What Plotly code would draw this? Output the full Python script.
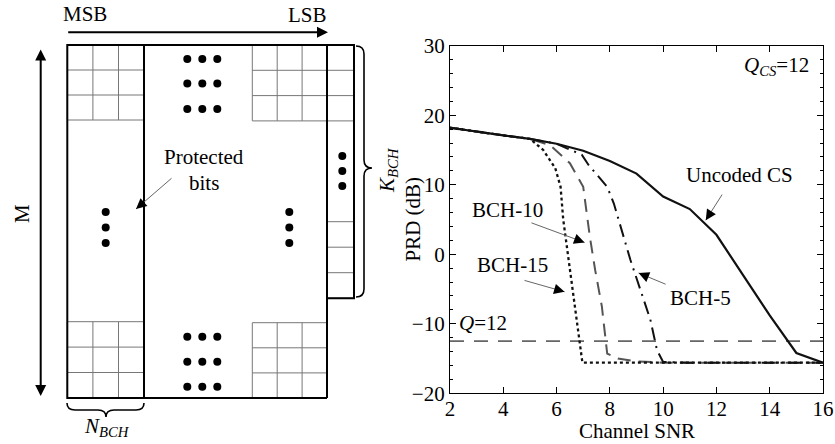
import math
import plotly.graph_objects as go

# ---------------- data (right chart) ----------------
snr_uncoded = [2, 3, 4, 5, 6, 7, 8, 9, 10, 11, 12, 13, 14, 15, 16]
prd_uncoded = [18.2, 17.6, 17.1, 16.6, 15.9, 14.9, 13.4, 11.6, 8.3, 6.5, 2.8, -3.0, -8.8, -14.2, -15.6]

snr_bch15 = [2, 3, 4, 5, 5.5, 5.95, 6.15, 6.25, 6.6, 6.9, 6.97, 8, 10, 12, 14, 16]
prd_bch15 = [18.2, 17.6, 17.1, 16.6, 15.0, 12.4, 9.7, 5.0, -5.0, -14.2, -15.6, -15.6, -15.6, -15.6, -15.6, -15.6]

snr_bch10 = [2, 3, 4, 5, 5.75, 6.5, 7.0, 7.25, 7.45, 7.7, 7.9, 8.3, 9, 10, 12, 14, 16]
prd_bch10 = [18.2, 17.6, 17.1, 16.6, 15.7, 13.1, 9.7, 2.5, -2.3, -7.5, -14.3, -15.0, -15.4, -15.6, -15.6, -15.6, -15.6]

snr_bch5 = [2, 3, 4, 5, 6, 6.95, 7.2, 7.9, 8.15, 8.77, 9.14, 9.52, 9.77, 10.0, 11, 12, 14, 16]
prd_bch5 = [18.2, 17.6, 17.1, 16.6, 15.9, 14.3, 12.85, 9.7, 7.3, -0.8, -5.1, -9.4, -13.8, -15.5, -15.6, -15.6, -15.6, -15.6]

q12_level = -12.5
q12_snr = [2, 16]

x_ticks = [2, 4, 6, 8, 10, 12, 14, 16]
y_ticks = [-20, -10, 0, 10, 20, 30]

FONT = "Liberation Serif"
W, H = 835, 444
PX_L, PX_R, PX_T, PX_B = 450, 823, 45.7, 393.3
X_RANGE, Y_RANGE = [2, 16], [-20, 30]
SX = (PX_R - PX_L) / (X_RANGE[1] - X_RANGE[0])   # px per x unit
SY = (PX_B - PX_T) / (Y_RANGE[1] - Y_RANGE[0])   # px per y unit

fig = go.Figure()

# ---------------- right chart traces ----------------
fig.add_trace(go.Scatter(x=q12_snr, y=[q12_level] * len(q12_snr), mode="lines",
                         line=dict(color="#666666", width=1.8, dash="14px,10px"),
                         xaxis="x", yaxis="y", showlegend=False))
fig.add_trace(go.Scatter(x=snr_bch10, y=prd_bch10, mode="lines",
                         line=dict(color="#555555", width=2, dash="13px,8px"),
                         xaxis="x", yaxis="y", showlegend=False))
fig.add_trace(go.Scatter(x=snr_bch5, y=prd_bch5, mode="lines",
                         line=dict(color="#111111", width=2, dash="13px,6px,2px,6px"),
                         xaxis="x", yaxis="y", showlegend=False))
fig.add_trace(go.Scatter(x=snr_bch15, y=prd_bch15, mode="lines",
                         line=dict(color="#111111", width=2.3, dash="dot"),
                         xaxis="x", yaxis="y", showlegend=False))
fig.add_trace(go.Scatter(x=snr_uncoded, y=prd_uncoded, mode="lines",
                         line=dict(color="#111111", width=2.2),
                         xaxis="x", yaxis="y", showlegend=False))

# ---------------- left diagram (pixel-like axis x2/y2) ----------------
shapes = []
BLACK = dict(color="black", width=2)
GRID = dict(color="#777777", width=1)

def line(x0, y0, x1, y1, ln):
    shapes.append(dict(type="line", xref="x2", yref="y2", x0=x0, y0=y0, x1=x1, y1=y1, line=ln))

def grid(x0, y0, cw, ch, nc, nr):
    for i in range(nc + 1):
        xx = x0 + i * cw
        line(xx, y0, xx, y0 + nr * ch, GRID)
    for j in range(nr + 1):
        yy = y0 + j * ch
        line(x0, yy, x0 + nc * cw, yy, GRID)

grid(67.3, 45, 25.6, 25.0, 3, 3)
grid(252.3, 45, 24.9, 25.3, 3, 3)
grid(67.3, 321.7, 25.6, 25.4, 3, 3)
grid(252.3, 322.7, 24.9, 25.1, 3, 3)
grid(327, 45, 27, 25.3, 1, 3)
grid(327, 221.7, 27, 25.5, 1, 3)

shapes.append(dict(type="rect", xref="x2", yref="y2", x0=67.3, y0=45, x1=144, y1=398, line=BLACK))
shapes.append(dict(type="rect", xref="x2", yref="y2", x0=327, y0=45, x1=354, y1=298.3, line=BLACK))
line(144, 45, 327, 45, BLACK)
line(327, 298.3, 327, 398, BLACK)
line(144, 398, 327, 398, BLACK)

shapes.append(dict(type="path", xref="x2", yref="y2",
                   path="M 67,403 Q 67,410 75,410 L 98,410 Q 106,410 106,417 Q 106,410 114,410 L 136,410 Q 144,410 144,403",
                   line=dict(color="black", width=1.6)))
shapes.append(dict(type="path", xref="x2", yref="y2",
                   path="M 356,46 Q 364,46 364,54 L 364,160 Q 364,168 372,168 Q 364,168 364,176 L 364,289 Q 364,297 356,297",
                   line=dict(color="black", width=1.6)))

dot_x, dot_y = [], []
for xx in (187.3, 202.3, 217.3):
    for yy in (59, 83.5, 109, 336.7, 361.7, 386.7):
        dot_x.append(xx); dot_y.append(yy)
for xx in (105.7, 289.3):
    for yy in (212, 227.5, 243):
        dot_x.append(xx); dot_y.append(yy)
for yy in (156, 171, 186):
    dot_x.append(342.3); dot_y.append(yy)
fig.add_trace(go.Scatter(x=dot_x, y=dot_y, mode="markers",
                         marker=dict(color="black", size=8, line=dict(width=0)),
                         xaxis="x2", yaxis="y2", showlegend=False, cliponaxis=False))

annotations = []
TF = dict(family=FONT, size=21, color="black")

def txt(x, y, s, ref=("x2", "y2"), angle=0, font=TF):
    annotations.append(dict(x=x, y=y, xref=ref[0], yref=ref[1], text=s, showarrow=False,
                            font=font, textangle=angle, xanchor="center", yanchor="middle"))

def arrow(xt, yt, xh, yh, ref=("x2", "y2"), color="black", width=2, side="end", size=1.0):
    annotations.append(dict(x=xh, y=yh, ax=xt, ay=yt, xref=ref[0], yref=ref[1],
                            axref=ref[0], ayref=ref[1], text="", showarrow=True,
                            arrowhead=2, arrowsize=size, arrowwidth=width, arrowcolor=color,
                            arrowside=side))

def pointer(xt, yt, xh, yh, ref=("x2", "y2")):
    """thin gray line with a black filled head"""
    sx, sy = (1.0, 1.0) if ref[0] == "x2" else (SX, -SY)
    annotations.append(dict(x=xh, y=yh, ax=xt, ay=yt, xref=ref[0], yref=ref[1],
                            axref=ref[0], ayref=ref[1], text="", showarrow=True,
                            arrowhead=0, arrowwidth=1, arrowcolor="#666666"))
    dxp, dyp = (xh - xt) * sx, (yh - yt) * sy
    L = math.hypot(dxp, dyp)
    k = 10.0 / L
    annotations.append(dict(x=xh, y=yh, ax=xh - (xh - xt) * k, ay=yh - (yh - yt) * k,
                            xref=ref[0], yref=ref[1], axref=ref[0], ayref=ref[1], text="",
                            showarrow=True, arrowhead=2, arrowsize=1.4, arrowwidth=1.5,
                            arrowcolor="black"))

txt(85, 14, "MSB")
txt(307, 15, "LSB")
arrow(66.7, 32.3, 328, 32.3, width=2, size=1.1)
arrow(40.7, 48, 40.7, 396, width=2, side="end+start", size=1.1)
txt(22, 214, "M", angle=-90)
txt(204, 157, "Protected")
txt(204, 183, "bits")
pointer(173, 177, 136, 209)
txt(388, 170, "<i>K</i><sub><i>BCH</i></sub>", angle=-90)
txt(107, 427, "<i>N</i><sub><i>BCH</i></sub>")

R = ("x", "y")
txt(14.25, 27.1, "<i>Q</i><sub><i>CS</i></sub>=12", ref=R)
txt(12.85, 11.4, "Uncoded CS", ref=R)
pointer(12.25, 8.8, 11.6, 4.9, ref=R)
txt(4.14, 6.4, "BCH-10", ref=R)
pointer(5.0, 4.6, 7.05, 1.7, ref=R)
txt(4.33, -1.5, "BCH-15", ref=R)
pointer(4.74, -3.7, 6.3, -5.4, ref=R)
txt(11.4, -6.3, "BCH-5", ref=R)
pointer(10.15, -4.4, 9.08, -2.7, ref=R)
txt(3.25, -9.9, "<i>Q</i>=12", ref=R)

annotations.append(dict(x=412 / W, y=1 - 219.5 / H, xref="paper", yref="paper", text="PRD (dB)",
                        showarrow=False, textangle=-90, font=TF, xanchor="center", yanchor="middle"))
annotations.append(dict(x=636.5 / W, y=1 - 431 / H, xref="paper", yref="paper", text="Channel SNR",
                        showarrow=False, font=TF, xanchor="center", yanchor="middle"))

axis_common = dict(showline=True, linecolor="black", linewidth=1.2, mirror="allticks",
                   ticks="inside", ticklen=6, tickwidth=1, tickcolor="black",
                   showgrid=False, zeroline=False, tickfont=TF, automargin=False)

fig.update_layout(
    template="none",
    width=W, height=H,
    margin=dict(l=0, r=0, t=0, b=0, pad=0),
    paper_bgcolor="white", plot_bgcolor="rgba(0,0,0,0)",
    font=dict(family=FONT, color="black"),
    xaxis=dict(domain=[PX_L / W, PX_R / W], range=X_RANGE, tickvals=x_ticks, anchor="y",
               ticklabelstandoff=-4, **axis_common),
    yaxis=dict(domain=[1 - PX_B / H, 1 - PX_T / H], range=Y_RANGE, tickvals=y_ticks, anchor="x",
               minor=dict(ticks="inside", ticklen=3, dtick=2, tickcolor="black"),
               **axis_common),
    xaxis2=dict(domain=[0, 1], range=[0, W], visible=False, anchor="y2", fixedrange=True,
                automargin=False),
    yaxis2=dict(domain=[0, 1], range=[H, 0], visible=False, anchor="x2", fixedrange=True,
                automargin=False),
    shapes=shapes,
    annotations=annotations,
)

fig.write_html("out.html")
